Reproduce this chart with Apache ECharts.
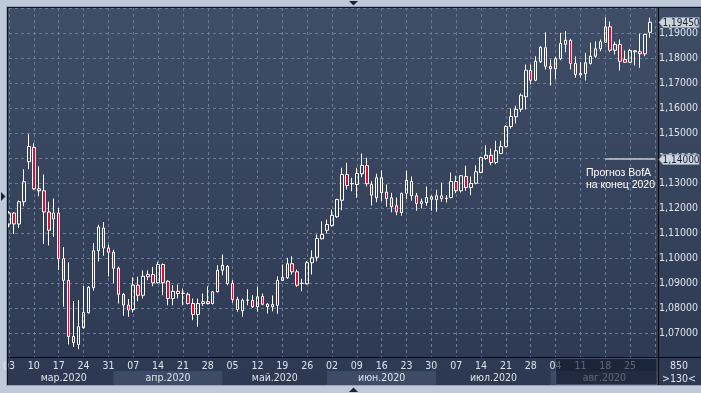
<!DOCTYPE html>
<html><head><meta charset="utf-8">
<script src="https://cdn.jsdelivr.net/npm/echarts@6/dist/echarts.min.js"></script>
<style>html,body{margin:0;padding:0;background:#bfcad8;overflow:hidden}#c{width:701px;height:393px;}</style>
</head><body><div id="c"></div>
<script>
// ---- data (EUR/USD daily, 03.03.2020 - 31.08.2020) ----
const tickLabels = ['03','10','17','24','31','07','14','21','28','05','12','19','26','02','09','16','23','30','07','14','21','28','04','11','18','25'];
const monthNames = ['мар.2020','апр.2020','май.2020','июн.2020','июл.2020','авг.2020'];
const open = [1.1138,1.1182,1.1138,1.1227,1.1387,1.1444,1.1279,1.1271,1.1186,1.1158,
1.1182,1.0999,1.0913,1.0688,1.0656,1.0723,1.0783,1.0883,1.1031,1.1122,
1.1042,1.1025,1.0961,1.0857,1.0814,1.0796,1.0893,1.0853,1.0927,1.0936,
1.0903,1.0976,1.0909,1.0840,1.0869,1.0860,1.0857,1.0820,1.0776,1.0820,
1.0827,1.0820,1.0867,1.0953,1.0969,1.0900,1.0836,1.0791,1.0833,1.0833,
1.0807,1.0848,1.0818,1.0807,1.0813,1.0912,1.0923,1.0979,1.0947,1.0900,
1.0899,1.0983,1.1005,1.1079,1.1113,1.1132,1.1167,1.1233,1.1336,1.1299,
1.1296,1.1339,1.1372,1.1296,1.1243,1.1323,1.1265,1.1243,1.1211,1.1184,
1.1261,1.1308,1.1251,1.1220,1.1224,1.1247,1.1235,1.1251,1.1240,1.1244,
1.1308,1.1271,1.1328,1.1284,1.1301,1.1344,1.1400,1.1413,1.1384,1.1420,
1.1448,1.1528,1.1567,1.1597,1.1647,1.1752,1.1713,1.1787,1.1843,1.1769,
1.1759,1.1799,1.1857,1.1873,1.1780,1.1740,1.1739,1.1780,1.1809,1.1839,
1.1865,1.1927,1.1833,1.1856,1.1796,1.1785,1.1827,1.1827,1.1819,1.1905];
const close = [1.1182,1.1138,1.1227,1.1307,1.1448,1.1279,1.1271,1.1186,1.1113,1.1182,
1.0999,1.0913,1.0688,1.0664,1.0727,1.0784,1.0885,1.1031,1.1126,1.1042,
1.1025,1.0961,1.0857,1.0814,1.0794,1.0894,1.0853,1.0929,1.0936,1.0903,
1.0976,1.0903,1.0840,1.0869,1.0860,1.0861,1.0820,1.0776,1.0820,1.0827,
1.0820,1.0867,1.0953,1.0973,1.0900,1.0836,1.0796,1.0833,1.0834,1.0807,
1.0847,1.0817,1.0807,1.0816,1.0912,1.0925,1.0979,1.0947,1.0893,1.0901,
1.0983,1.1003,1.1080,1.1096,1.1136,1.1172,1.1236,1.1336,1.1292,1.1300,
1.1340,1.1372,1.1299,1.1253,1.1323,1.1263,1.1240,1.1207,1.1187,1.1260,
1.1313,1.1251,1.1220,1.1228,1.1244,1.1237,1.1251,1.1240,1.1241,1.1308,
1.1271,1.1331,1.1284,1.1300,1.1347,1.1404,1.1413,1.1384,1.1431,1.1448,
1.1528,1.1568,1.1597,1.1653,1.1753,1.1713,1.1789,1.1845,1.1769,1.1759,
1.1799,1.1860,1.1873,1.1780,1.1736,1.1735,1.1783,1.1809,1.1839,1.1867,
1.1927,1.1833,1.1856,1.1789,1.1785,1.1832,1.1831,1.1819,1.1896,1.1945];
const low = [1.1125,1.1098,1.1122,1.1209,1.1357,1.1275,1.1249,1.1058,1.1052,1.1086,
1.0954,1.0807,1.0656,1.0646,1.0637,1.0720,1.0780,1.0871,1.0988,1.1011,
1.0928,1.0901,1.0820,1.0771,1.0767,1.0784,1.0829,1.0840,1.0913,1.0889,
1.0900,1.0853,1.0813,1.0813,1.0840,1.0813,1.0816,1.0753,1.0727,1.0811,
1.0816,1.0816,1.0864,1.0933,1.0893,1.0824,1.0787,1.0767,1.0813,1.0803,
1.0787,1.0813,1.0780,1.0789,1.0779,1.0909,1.0919,1.0936,1.0887,1.0869,
1.0896,1.0936,1.0989,1.1076,1.1100,1.1127,1.1163,1.1193,1.1276,1.1269,
1.1243,1.1325,1.1289,1.1212,1.1225,1.1229,1.1207,1.1185,1.1173,1.1171,
1.1237,1.1231,1.1191,1.1200,1.1211,1.1191,1.1187,1.1227,1.1224,1.1240,
1.1261,1.1264,1.1271,1.1253,1.1297,1.1341,1.1395,1.1373,1.1377,1.1417,
1.1444,1.1520,1.1540,1.1587,1.1596,1.1696,1.1709,1.1783,1.1756,1.1692,
1.1716,1.1793,1.1825,1.1756,1.1723,1.1723,1.1712,1.1776,1.1803,1.1829,
1.1863,1.1825,1.1816,1.1752,1.1783,1.1783,1.1772,1.1763,1.1809,1.1883];
const high = [1.1190,1.1186,1.1232,1.1357,1.1497,1.1461,1.1369,1.1336,1.1227,1.1240,
1.1202,1.1046,1.0985,1.0830,1.0834,1.0890,1.0890,1.1062,1.1135,1.1146,
1.1055,1.1035,1.0968,1.0862,1.0838,1.0925,1.0927,1.0953,1.0953,1.0967,
1.0987,1.0980,1.0913,1.0893,1.0896,1.0880,1.0864,1.0840,1.0840,1.0860,
1.0889,1.0869,1.0973,1.1016,1.0973,1.0913,1.0847,1.0840,1.0877,1.0853,
1.0887,1.0860,1.0822,1.0852,1.0929,1.0976,1.1003,1.1009,1.0956,1.0919,
1.0990,1.1033,1.1096,1.1149,1.1156,1.1196,1.1239,1.1363,1.1383,1.1323,
1.1363,1.1420,1.1403,1.1309,1.1339,1.1352,1.1296,1.1263,1.1244,1.1264,
1.1351,1.1328,1.1262,1.1240,1.1288,1.1253,1.1275,1.1304,1.1253,1.1344,
1.1331,1.1333,1.1371,1.1328,1.1373,1.1408,1.1453,1.1440,1.1471,1.1471,
1.1533,1.1600,1.1611,1.1661,1.1776,1.1776,1.1809,1.1849,1.1905,1.1796,
1.1807,1.1903,1.1909,1.1879,1.1809,1.1785,1.1823,1.1863,1.1869,1.1876,
1.1965,1.1948,1.1867,1.1876,1.1832,1.1839,1.1833,1.1899,1.1900,1.1963];
const lastPrice = 1.1945;
const forecast = 1.14;
const forecastText = 'Прогноз BofA\nна конец 2020';
const bottomInfo = ['850', '>130<'];

// ---- trading-day categories (Mon-Fri), one extra slot at the right edge ----
const N = open.length + 1;
const dates = [];
{ const d = new Date(Date.UTC(2020, 2, 3));
  while (dates.length < N) { const w = d.getUTCDay(); if (w !== 0 && w !== 6) dates.push(d.toISOString().slice(0, 10)); d.setUTCDate(d.getUTCDate() + 1); } }
const candles = open.map((o, i) => [o, close[i], low[i], high[i]]);

const NARROW = '"Liberation Sans Narrow","Arial Narrow","DejaVu Sans Condensed",sans-serif';
const TXT = '#dde3ec';
const chart = echarts.init(document.getElementById('c'));
chart.setOption({
  backgroundColor: '#bfcad8',
  animation: false,
  grid: { left: 8, top: 8, width: 650, height: 349 },
  xAxis: {
    type: 'category', data: dates, boundaryGap: false,
    axisLine: { show: false }, axisTick: { show: false },
    axisLabel: { interval: (i) => i % 5 === 0 && i < 130, formatter: (v, i) => tickLabels[Math.round(i / 5)] || '',
      color: TXT, fontFamily: NARROW, fontSize: 10.5, margin: 4 },
    splitLine: { show: true, interval: (i) => i % 5 === 0, lineStyle: { color: '#6a7b98', type: [3, 3], width: 1 } }
  },
  yAxis: {
    type: 'value', position: 'right', min: 1.0606, max: 1.2002, minInterval: 0.01, maxInterval: 0.01,
    axisLine: { show: false }, axisTick: { show: false },
    axisLabel: { margin: 4, align: 'left', color: TXT, fontFamily: NARROW, fontSize: 10.5,
      formatter: (v) => (v > 1.065 && v < 1.195) ? v.toFixed(5).replace('.', ',') : '' },
    splitLine: { lineStyle: { color: '#6a7b98', type: [3, 3], width: 1 } }
  },
  series: [{
    type: 'candlestick', data: candles, barWidth: 3, clip: true,
    itemStyle: { color: 'rgba(0,0,0,0)', color0: '#e8062a', borderColor: '#ffffff', borderColor0: '#ffffff', borderWidth: 1 },
    markLine: { silent: true, symbol: ['none', 'none'], label: { show: false },
      lineStyle: { color: '#c3cad4', width: 1.5, type: 'solid' },
      data: [[{ coord: [dates[120], forecast] }, { coord: [dates[130], forecast] }]] }
  }]
});

const px = (i) => chart.convertToPixel({ xAxisIndex: 0 }, dates[i]);
const py = (v) => chart.convertToPixel({ yAxisIndex: 0 }, v);
const g = [];
// dark panel
g.push({ type: 'rect', z: -10, shape: { x: 7, y: 7, width: 694, height: 378 },
  style: { fill: new echarts.graphic.LinearGradient(0, 0, 0, 1, [{ offset: 0, color: '#404d67' }, { offset: 1, color: '#2d3952' }]) } });
// month bands
const monthStart = [];
dates.forEach((d, i) => { if (i === 0 || d.slice(5, 7) !== dates[i - 1].slice(5, 7)) monthStart.push(i); });
monthNames.forEach((m, k) => {
  const x0 = k === 0 ? 8 : px(monthStart[k]);
  const x1 = k + 1 < monthNames.length ? px(monthStart[k + 1]) : 658;
  g.push({ type: 'rect', z: -5, shape: { x: x0, y: 371, width: x1 - x0, height: 14 }, style: { fill: k % 2 ? '#3e4b66' : '#2d3851' } });
  g.push({ type: 'text', z: 5, style: { text: m, x: (x0 + x1) / 2 + (k === 0 ? 3 : 0), y: 378, align: 'center', verticalAlign: 'middle', fill: TXT, font: '10.5px ' + NARROW } });
});
// separators and frame
g.push({ type: 'line', z: 50, shape: { x1: 7, y1: 357.5, x2: 701, y2: 357.5 }, style: { stroke: '#05080d', lineWidth: 1 } });
g.push({ type: 'line', z: 50, shape: { x1: 658.5, y1: 7, x2: 658.5, y2: 385 }, style: { stroke: '#05080d', lineWidth: 1 } });
g.push({ type: 'line', z: 50, shape: { x1: 7, y1: 7.5, x2: 701, y2: 7.5 }, style: { stroke: '#10151f', lineWidth: 1 } });
g.push({ type: 'line', z: 50, shape: { x1: 7.5, y1: 7, x2: 7.5, y2: 385 }, style: { stroke: '#10151f', lineWidth: 1 } });
g.push({ type: 'line', z: 50, shape: { x1: 6, y1: 6.5, x2: 701, y2: 6.5 }, style: { stroke: '#96a3b8', lineWidth: 1 } });
g.push({ type: 'line', z: 50, shape: { x1: 6.5, y1: 6, x2: 6.5, y2: 386 }, style: { stroke: '#96a3b8', lineWidth: 1 } });
g.push({ type: 'line', z: 50, shape: { x1: 6, y1: 385.5, x2: 701, y2: 385.5 }, style: { stroke: '#96a3b8', lineWidth: 1 } });
// August scroll overlay
const xa = px(110);
g.push({ type: 'rect', z: 100, shape: { x: xa, y: 358.5, width: 657 - xa, height: 26 }, style: { fill: 'rgba(14,24,44,0.62)', stroke: '#47536c', lineWidth: 1 } });
// bottom-right info
g.push({ type: 'text', z: 60, style: { text: bottomInfo[0], x: 679, y: 366, align: 'center', verticalAlign: 'middle', fill: TXT, font: '10.5px ' + NARROW } });
g.push({ type: 'text', z: 60, style: { text: bottomInfo[1], x: 679, y: 379, align: 'center', verticalAlign: 'middle', fill: TXT, font: '10.5px ' + NARROW } });
// price tags
[lastPrice, forecast].forEach((v) => {
  const y = Math.round(py(v)) + 0.5;
  g.push({ type: 'polygon', z: 70, shape: { points: [[659, y], [663, y - 5], [699, y - 5], [699, y + 5], [663, y + 5]] }, style: { fill: '#cdd4de', stroke: '#8e9ab0', lineWidth: 1 } });
  g.push({ type: 'text', z: 71, style: { text: v.toFixed(5).replace('.', ','), x: 681, y: y + 0.5, align: 'center', verticalAlign: 'middle', fill: '#1a2334', font: '10px ' + NARROW } });
});
// forecast annotation
g.push({ type: 'text', z: 60, style: { text: forecastText, x: 586, y: 167, align: 'left', verticalAlign: 'top', fill: '#ffffff', font: '10.5px "Liberation Sans", Arial, sans-serif', lineHeight: 12 } });
// frame triangles
g.push({ type: 'polygon', z: 80, shape: { points: [[349, 1], [358, 1], [353.5, 5.5]] }, style: { fill: '#1d2535' } });
g.push({ type: 'polygon', z: 80, shape: { points: [[349, 392], [358, 392], [353.5, 387.5]] }, style: { fill: '#1d2535' } });
g.push({ type: 'polygon', z: 80, shape: { points: [[1, 192], [1, 201], [5.5, 196.5]] }, style: { fill: '#1d2535' } });
chart.setOption({ graphic: g });
</script></body></html>
